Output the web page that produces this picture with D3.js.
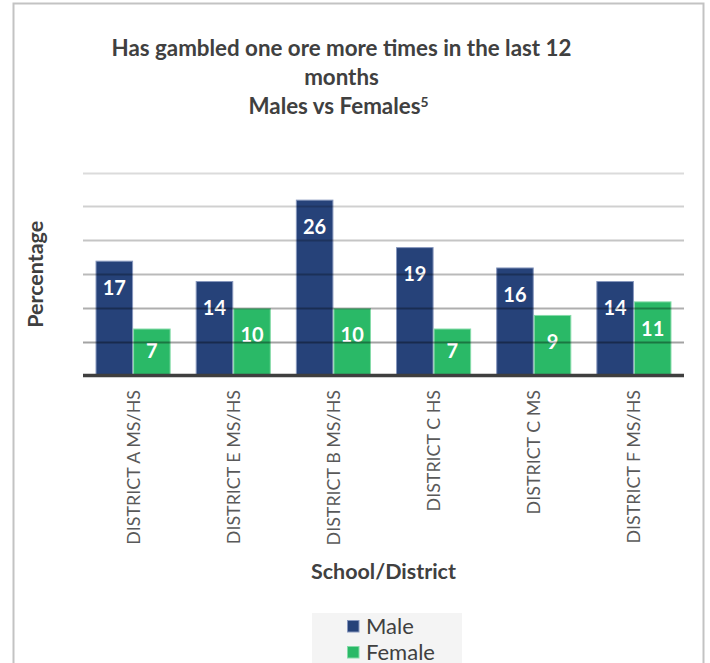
<!DOCTYPE html>
<html>
<head>
<meta charset="utf-8">
<script src="https://cdn.jsdelivr.net/npm/d3@7"></script>
<style>
  html, body { margin: 0; padding: 0; background: #ffffff; }
  svg { display: block; font-family: Lato, "Open Sans", sans-serif; }
</style>
</head>
<body>
<svg id="chart" width="710" height="663"></svg>
<script>
// ---- data ----
const categories = ["DISTRICT A MS/HS", "DISTRICT E MS/HS", "DISTRICT B MS/HS",
                    "DISTRICT C HS", "DISTRICT C MS", "DISTRICT F MS/HS"];
const seriesNames = ["Male", "Female"];
const maleValues = [17, 14, 26, 19, 16, 14];
const femaleValues = [7, 10, 10, 7, 9, 11];
const gridTicks = [5, 10, 15, 20, 25, 30];
const titleLines = ["Has gambled one ore more times in the last 12", "months", "Males vs Females"];
const titleNote = "5";
const xAxisTitle = "School/District";
const yAxisTitle = "Percentage";

// ---- styles ----
const fills = { Male: "#264279", Female: "#2ab967" };
const strokes = { Male: "#8797bd", Female: "#86dba9" };
const textDark = "#404040";
const textMid = "#595959";

const svg = d3.select("#chart");

// fit a text element's font size to a target width
function fitWidth(sel, target) {
  const w = sel.node().getComputedTextLength();
  const fs = parseFloat(sel.attr("font-size"));
  const nfs = fs * target / w;
  sel.attr("font-size", nfs);
  return nfs;
}

// outer chart frame
svg.append("rect")
  .attr("x", 13.5).attr("y", 3.5)
  .attr("width", 690).attr("height", 720)
  .attr("fill", "none")
  .attr("stroke", "#c3c3c3")
  .attr("stroke-width", 2);

// ---- scales ----
const plot = { left: 83, right: 684, top: 172.5, bottom: 376 };

const x0 = d3.scaleBand()
  .domain(categories)
  .range([plot.left, plot.right])
  .padding(0);

const x1 = d3.scaleBand()
  .domain(seriesNames)
  .range([0, x0.bandwidth()])
  .paddingInner(0)
  .paddingOuter(0.3333);

const y = d3.scaleLinear()
  .domain([0, 30])
  .range([plot.bottom, plot.top]);

const rows = categories.map((c, i) => ({
  category: c,
  values: [
    { series: "Male", value: maleValues[i] },
    { series: "Female", value: femaleValues[i] }
  ]
}));

// ---- bars ----
const groups = svg.append("g").selectAll("g")
  .data(rows)
  .join("g")
  .attr("transform", d => `translate(${x0(d.category)},0)`);

groups.selectAll("rect")
  .data(d => d.values)
  .join("rect")
  .attr("x", d => x1(d.series) + 0.5)
  .attr("y", d => y(d.value) + 0.5)
  .attr("width", x1.bandwidth() - 1)
  .attr("height", d => y(0) - y(d.value) - 0.5)
  .attr("fill", d => fills[d.series])
  .attr("stroke", d => strokes[d.series])
  .attr("stroke-width", 1);

// ---- gridlines (drawn over the bars, translucent) ----
const gridAlpha = d3.scaleLinear().domain([5, 30]).range([0.36, 0.14]);
svg.append("g").selectAll("line")
  .data(gridTicks)
  .join("line")
  .attr("x1", plot.left).attr("x2", plot.right)
  .attr("y1", d => Math.round(y(d)) + 0.5)
  .attr("y2", d => Math.round(y(d)) + 0.5)
  .attr("stroke", "#000")
  .attr("stroke-opacity", d => gridAlpha(d))
  .attr("stroke-width", 2);

// ---- x axis line ----
svg.append("line")
  .attr("x1", plot.left).attr("x2", plot.right)
  .attr("y1", y(0) - 0.5).attr("y2", y(0) - 0.5)
  .attr("stroke", "#3f3f3f")
  .attr("stroke-width", 3.5);

// ---- data labels ----
groups.selectAll("text")
  .data(d => d.values)
  .join("text")
  .attr("x", d => x1(d.series) + x1.bandwidth() / 2)
  .attr("y", d => Math.min(y(d.value) + 27, y(0) - 25))
  .attr("dy", "0.36em")
  .attr("text-anchor", "middle")
  .attr("font-size", 20)
  .attr("font-weight", 700)
  .attr("fill", "#ffffff")
  .text(d => d.value);

// ---- category labels (rotated) ----
const catLabels = svg.append("g").selectAll("text")
  .data(categories)
  .join("text")
  .attr("transform", d => `translate(${x0(d) + x0.bandwidth() / 2},390) rotate(-90)`)
  .attr("text-anchor", "end")
  .attr("dy", "0.36em")
  .attr("font-size", 16)
  .attr("fill", textMid)
  .text(d => d);
const catSize = fitWidth(catLabels.filter((d, i) => i === 0), 155);
catLabels.attr("font-size", catSize);

// ---- title ----
const tx = 341.5;
const t1 = svg.append("text")
  .attr("x", tx).attr("y", 55.5)
  .attr("text-anchor", "middle")
  .attr("font-size", 18).attr("font-weight", 700)
  .attr("fill", textDark)
  .text(titleLines[0]);
const tSize = fitWidth(t1, 460);
svg.append("text")
  .attr("x", tx).attr("y", 84.5)
  .attr("text-anchor", "middle")
  .attr("font-size", tSize).attr("font-weight", 700)
  .attr("fill", textDark)
  .text(titleLines[1]);
const t3 = svg.append("text")
  .attr("x", tx - 3).attr("y", 113.5)
  .attr("text-anchor", "middle")
  .attr("font-size", tSize).attr("font-weight", 700)
  .attr("fill", textDark);
t3.append("tspan").text(titleLines[2]);
t3.append("tspan")
  .attr("dy", -7)
  .attr("font-size", tSize * 0.62)
  .text(titleNote);

// ---- axis titles ----
const xt = svg.append("text")
  .attr("x", (plot.left + plot.right) / 2).attr("y", 579)
  .attr("text-anchor", "middle")
  .attr("font-size", 18).attr("font-weight", 700)
  .attr("fill", textDark)
  .text(xAxisTitle);
const axSize = fitWidth(xt, 145);

svg.append("text")
  .attr("transform", `translate(43,${(plot.top + plot.bottom) / 2}) rotate(-90)`)
  .attr("text-anchor", "middle")
  .attr("font-size", axSize).attr("font-weight", 700)
  .attr("fill", textDark)
  .text(yAxisTitle);

// ---- legend ----
const legend = svg.append("g");
legend.append("rect")
  .attr("x", 312).attr("y", 613)
  .attr("width", 150).attr("height", 60)
  .attr("fill", "#f4f4f4");

const legendRows = legend.selectAll("g")
  .data(seriesNames)
  .join("g")
  .attr("transform", (d, i) => `translate(347,${620 + i * 26})`);

legendRows.append("rect")
  .attr("x", 0.5).attr("y", 0.5)
  .attr("width", 11.5).attr("height", 11.5)
  .attr("fill", d => fills[d])
  .attr("stroke", d => strokes[d])
  .attr("stroke-width", 1);

const legTexts = legendRows.append("text")
  .attr("x", 19).attr("y", 13.5)
  .attr("font-size", 20)
  .attr("fill", textDark)
  .text(d => d);
const legSize = fitWidth(legTexts.filter(d => d === "Female"), 69);
legTexts.attr("font-size", legSize);
</script>
</body>
</html>
